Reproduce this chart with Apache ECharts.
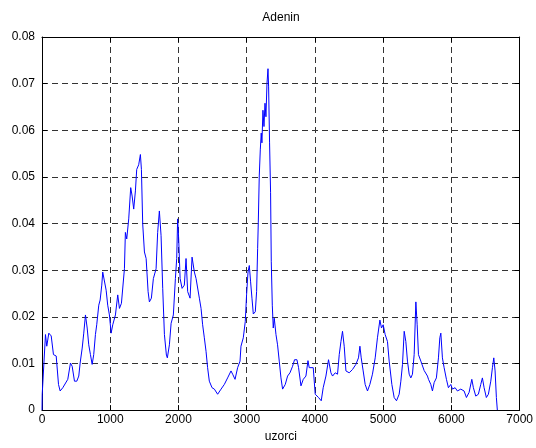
<!DOCTYPE html>
<html>
<head>
<meta charset="utf-8">
<script src="https://cdn.jsdelivr.net/npm/echarts@6/dist/echarts.min.js"></script>
<style>
  html, body { margin: 0; padding: 0; background: #fff; }
  #chart { width: 536px; height: 448px; }
</style>
</head>
<body>
<div id="chart"></div>
<script>
// Adenin signal: sample index vs. value
const samples = [
  0, 3, 51, 70, 100, 135, 168, 208, 242, 266, 305, 329, 378, 417, 442, 476, 510, 539, 559, 589,
  612, 637, 662, 685, 710, 735, 758, 783, 802, 832, 852, 876, 890, 915, 940, 963, 988, 1013, 1037, 1076,
  1110, 1135, 1164, 1208, 1222, 1242, 1271, 1300, 1321, 1344, 1369, 1388, 1417, 1442, 1457, 1476, 1501, 1526, 1555, 1574,
  1603, 1632, 1672, 1695, 1720, 1745, 1769, 1794, 1823, 1837, 1867, 1892, 1925, 1955, 1974, 1988, 2003, 2024, 2053, 2086,
  2111, 2135, 2170, 2199, 2233, 2258, 2306, 2331, 2354, 2379, 2404, 2427, 2452, 2492, 2526, 2574, 2624, 2672, 2720, 2770,
  2794, 2829, 2867, 2902, 2916, 2950, 2979, 2998, 3019, 3038, 3057, 3077, 3097, 3126, 3145, 3160, 3170, 3184, 3199, 3213,
  3223, 3238, 3253, 3268, 3282, 3297, 3312, 3321, 3335, 3350, 3360, 3375, 3389, 3404, 3429, 3452, 3477, 3502, 3526, 3565,
  3599, 3634, 3672, 3701, 3736, 3760, 3795, 3829, 3868, 3898, 3916, 3941, 3975, 4004, 4053, 4092, 4121, 4161, 4199, 4234,
  4258, 4297, 4331, 4356, 4381, 4404, 4429, 4454, 4502, 4550, 4600, 4638, 4659, 4678, 4707, 4736, 4770, 4805, 4843, 4883,
  4916, 4952, 4975, 5000, 5029, 5063, 5088, 5127, 5161, 5195, 5234, 5259, 5283, 5308, 5332, 5356, 5381, 5405, 5429, 5454,
  5479, 5498, 5517, 5552, 5600, 5649, 5664, 5698, 5722, 5747, 5780, 5810, 5830, 5845, 5868, 5893, 5927, 5956, 5991, 6015,
  6054, 6088, 6137, 6186, 6220, 6259, 6299, 6322, 6357, 6395, 6430, 6454, 6479, 6512, 6542, 6577, 6601, 6621, 6640, 6659,
  6673
];
const adenin = [
  0, 0.0034, 0.0162, 0.0137, 0.0165, 0.0159, 0.0119, 0.0116, 0.0055, 0.0041, 0.0048, 0.0045, 0.0066, 0.0101, 0.0094, 0.0062, 0.0062, 0.0073, 0.0101, 0.0133,
  0.0165, 0.0204, 0.0176, 0.0140, 0.0119, 0.0098, 0.0119, 0.0162, 0.0183, 0.0225, 0.0236, 0.0268, 0.0296, 0.0298, 0.0257, 0.0225, 0.0204, 0.0165, 0.0183, 0.0204,
  0.0247, 0.0218, 0.0229, 0.0303, 0.0381, 0.0367, 0.0410, 0.0477, 0.0459, 0.0431, 0.0470, 0.0516, 0.0526, 0.0548, 0.0516, 0.0399, 0.0339, 0.0325, 0.0254, 0.0232,
  0.0240, 0.0282, 0.0303, 0.0381, 0.0427, 0.0374, 0.0261, 0.0162, 0.0118, 0.0112, 0.0140, 0.0186, 0.0204, 0.0282, 0.0325, 0.0410, 0.0367, 0.0282, 0.0261, 0.0268,
  0.0325, 0.0254, 0.0240, 0.0328, 0.0296, 0.0282, 0.0240, 0.0218, 0.0183, 0.0155, 0.0126, 0.0091, 0.0062, 0.0048, 0.0045, 0.0034, 0.0045, 0.0055, 0.0069, 0.0084,
  0.0077, 0.0066, 0.0091, 0.0105, 0.0137, 0.0155, 0.0190, 0.0247, 0.0296, 0.0310, 0.0275, 0.0240, 0.0206, 0.0211, 0.0254, 0.0346, 0.0403, 0.0502, 0.0558, 0.0594,
  0.0573, 0.0643, 0.0608, 0.0658, 0.0629, 0.0700, 0.0732, 0.0693, 0.0573, 0.0466, 0.0318, 0.0225, 0.0176, 0.0197, 0.0162, 0.0140, 0.0105, 0.0069, 0.0045, 0.0055,
  0.0073, 0.0080, 0.0094, 0.0108, 0.0108, 0.0091, 0.0052, 0.0066, 0.0073, 0.0106, 0.0091, 0.0087, 0.0091, 0.0034, 0.0027, 0.0020, 0.0048, 0.0073, 0.0108, 0.0080,
  0.0073, 0.0080, 0.0077, 0.0119, 0.0147, 0.0169, 0.0137, 0.0084, 0.0080, 0.0087, 0.0098, 0.0112, 0.0137, 0.0112, 0.0084, 0.0055, 0.0041, 0.0055, 0.0077, 0.0112,
  0.0155, 0.0193, 0.0176, 0.0183, 0.0162, 0.0147, 0.0105, 0.0055, 0.0027, 0.0020, 0.0034, 0.0062, 0.0098, 0.0169, 0.0147, 0.0105, 0.0077, 0.0069, 0.0077, 0.0119,
  0.0232, 0.0183, 0.0119, 0.0105, 0.0085, 0.0073, 0.0066, 0.0055, 0.0041, 0.0059, 0.0069, 0.0112, 0.0155, 0.0165, 0.0112, 0.0091, 0.0066, 0.0048, 0.0055, 0.0045,
  0.0048, 0.0041, 0.0045, 0.0041, 0.0027, 0.0038, 0.0066, 0.0048, 0.0030, 0.0034, 0.0055, 0.0069, 0.0048, 0.0027, 0.0034, 0.0062, 0.0091, 0.0112, 0.0084, 0.0027,
  0
];
const xTicks = [0, 1000, 2000, 3000, 4000, 5000, 6000, 7000];
const yTicks = [0, 0.01, 0.02, 0.03, 0.04, 0.05, 0.06, 0.07, 0.08];
const titleText = 'Adenin';
const xName = 'uzorci';

const FONT = '"Liberation Sans", Arial, sans-serif';
const chart = echarts.init(document.getElementById('chart'), null, { renderer: 'canvas' });

const gridDash = { show: true, lineStyle: { color: '#333', width: 1, type: [6, 4] } };
const frame = { show: true, onZero: false, lineStyle: { color: '#000', width: 1 } };
const inTick = { show: true, inside: true, length: 5, lineStyle: { color: '#000' } };

chart.setOption({
  animation: false,
  backgroundColor: '#fff',
  graphic: [{
    type: 'text',
    x: 281, y: 18,
    style: {
      text: titleText, fill: '#000',
      font: '12px ' + FONT,
      align: 'center', verticalAlign: 'middle'
    }
  }],
  grid: { left: 42, right: 15, top: 37, bottom: 36, containLabel: false },
  xAxis: [
    {
      type: 'value', min: xTicks[0], max: xTicks[xTicks.length - 1], interval: 1000,
      position: 'bottom',
      name: xName, nameLocation: 'middle', nameGap: 20,
      nameTextStyle: { fontFamily: FONT, fontSize: 12, color: '#000' },
      axisLine: frame, axisTick: inTick,
      axisLabel: { fontFamily: FONT, fontSize: 12, color: '#000', margin: 4, formatter: v => String(v) },
      splitLine: gridDash
    },
    {
      type: 'value', min: xTicks[0], max: xTicks[xTicks.length - 1], interval: 1000,
      position: 'top',
      axisLine: frame, axisTick: inTick, axisLabel: { show: false }, splitLine: { show: false }
    }
  ],
  yAxis: [
    {
      type: 'value', min: yTicks[0], max: yTicks[yTicks.length - 1], interval: 0.01,
      position: 'left',
      axisLine: frame, axisTick: inTick,
      axisLabel: {
        fontFamily: FONT, fontSize: 12, color: '#000', margin: 7,
        formatter: v => (v === 0 ? '0' : v.toFixed(2))
      },
      splitLine: gridDash
    },
    {
      type: 'value', min: yTicks[0], max: yTicks[yTicks.length - 1], interval: 0.01,
      position: 'right',
      axisLine: frame, axisTick: inTick, axisLabel: { show: false }, splitLine: { show: false }
    }
  ],
  series: [{
    type: 'line',
    data: samples.map((s, i) => [s, adenin[i]]),
    showSymbol: false,
    symbol: 'none',
    lineStyle: { color: '#0000ff', width: 1 },
    clip: true,
    z: 5
  }]
});
</script>
</body>
</html>
